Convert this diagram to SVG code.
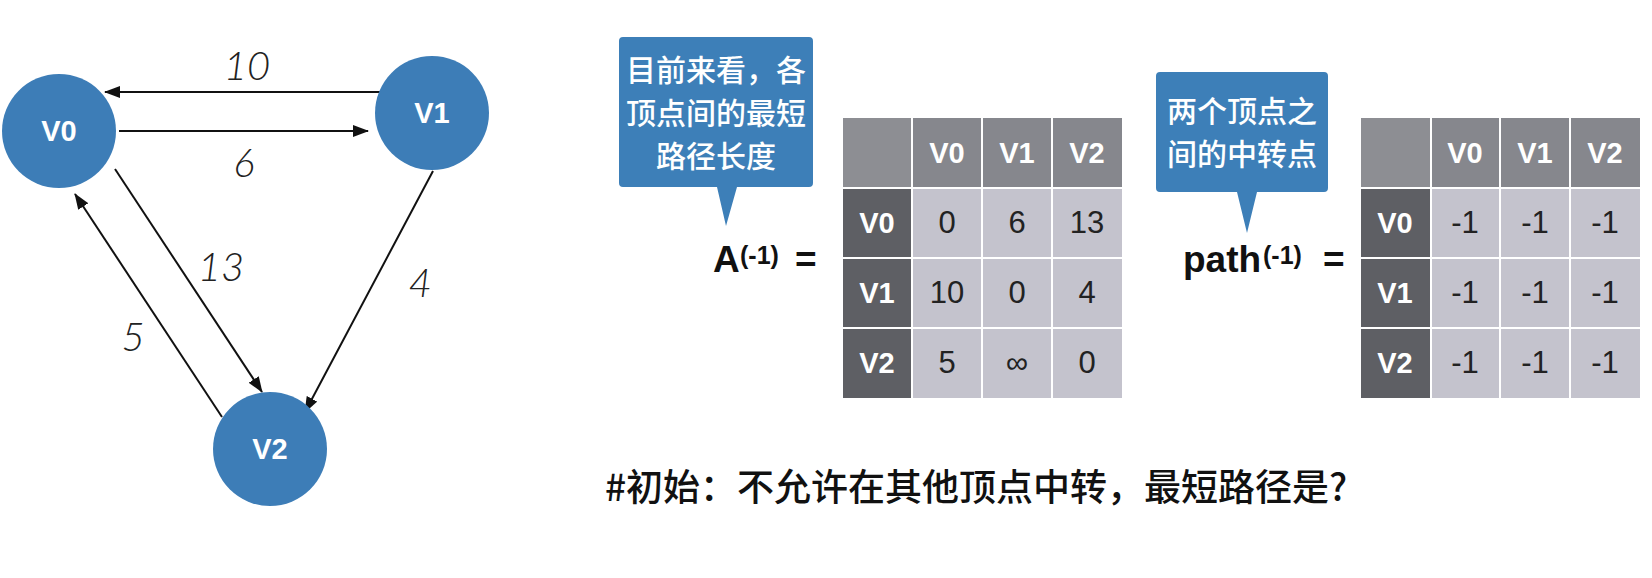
<svg xmlns="http://www.w3.org/2000/svg" width="1652" height="578" viewBox="0 0 1652 578">
<defs>
<style>
.node{fill:#3d7db7;}
.nlabel{font-family:"Liberation Sans",Arial,sans-serif;font-weight:bold;font-size:29px;fill:#ffffff;text-anchor:middle;}
.edge{stroke:#111;stroke-width:2;fill:none;marker-end:url(#arr);}
.elabel{font-family:Lato,"Liberation Sans",sans-serif;font-style:italic;font-weight:300;font-size:40px;fill:#222;text-anchor:middle;}
.callout{fill:#3d7fb8;}
.ctext{font-family:"Noto Sans CJK SC",sans-serif;font-weight:500;font-size:30px;fill:#ffffff;text-anchor:middle;}
.corner{fill:#8d8e93;}
.hdr{fill:#86878d;}
.rhdr{fill:#5e5f64;}
.cell{fill:#c4c3cd;}
.htext{font-family:"Liberation Sans",Arial,sans-serif;font-weight:bold;font-size:29px;fill:#ffffff;text-anchor:middle;}
.dtext{font-family:"Liberation Sans",Arial,sans-serif;font-size:31px;fill:#222;text-anchor:middle;}
.eq{font-family:"Liberation Sans",Arial,sans-serif;font-weight:bold;font-size:37px;fill:#111;}
.sup{font-family:"Liberation Sans",Arial,sans-serif;font-weight:bold;font-size:25px;fill:#111;}
.note{font-family:"Noto Sans CJK SC",sans-serif;font-weight:500;font-size:37px;fill:#111;}
</style>
<marker id="arr" markerUnits="userSpaceOnUse" markerWidth="16" markerHeight="12" refX="15" refY="6" orient="auto">
<path d="M0,0 L16,6 L0,12 Z" fill="#111"/>
</marker>
</defs>
<rect width="1652" height="578" fill="#ffffff"/>

<g id="connectors">
<line class="edge" x1="383" y1="92" x2="105" y2="92"/>
<line class="edge" x1="119" y1="131" x2="368" y2="131"/>
<line class="edge" x1="115" y1="169" x2="262" y2="392"/>
<line class="edge" x1="222" y1="417" x2="75" y2="194"/>
<line class="edge" x1="433" y1="171" x2="305" y2="412"/>
<text class="elabel" x="247" y="80">10</text>
<text class="elabel" x="244" y="177">6</text>
<text class="elabel" x="221" y="281">13</text>
<text class="elabel" x="133" y="351">5</text>
<text class="elabel" x="420" y="297">4</text>
</g>

<g id="node-v0">
<circle class="node" cx="59" cy="131" r="57"/>
<text class="nlabel" x="59" y="141">V0</text>
</g>
<g id="node-v1">
<circle class="node" cx="432" cy="113" r="57"/>
<text class="nlabel" x="432" y="123">V1</text>
</g>
<g id="node-v2">
<circle class="node" cx="270" cy="449" r="57"/>
<text class="nlabel" x="270" y="459">V2</text>
</g>

<g id="callout-a">
<path class="callout" d="M623,37 H809 Q813,37 813,41 V183 Q813,187 809,187 H737 L726,226 L717,187 H623 Q619,187 619,183 V41 Q619,37 623,37 Z"/>
<text class="ctext" x="716" y="81">目前来看，各</text>
<text class="ctext" x="716" y="124">顶点间的最短</text>
<text class="ctext" x="716" y="167">路径长度</text>
</g>

<g id="callout-path">
<path class="callout" d="M1160,72 H1324 Q1328,72 1328,76 V188 Q1328,192 1324,192 H1257 L1247,233 L1237,192 H1160 Q1156,192 1156,188 V76 Q1156,72 1160,72 Z"/>
<text class="ctext" x="1242" y="122">两个顶点之</text>
<text class="ctext" x="1242" y="165">间的中转点</text>
</g>

<g id="label-a">
<text class="eq" x="713" y="272">A</text>
<text class="sup" x="740" y="264">(-1)</text>
<text class="eq" x="795" y="272">=</text>
</g>

<g id="table-a">
<rect class="corner" x="843" y="118" width="68" height="69"/>
<rect class="hdr" x="913" y="118" width="68" height="69"/>
<rect class="hdr" x="983" y="118" width="68" height="69"/>
<rect class="hdr" x="1053" y="118" width="69" height="69"/>
<rect class="rhdr" x="843" y="189" width="68" height="68"/>
<rect class="rhdr" x="843" y="259" width="68" height="68"/>
<rect class="rhdr" x="843" y="329" width="68" height="69"/>
<rect class="cell" x="913" y="189" width="68" height="68"/>
<rect class="cell" x="983" y="189" width="68" height="68"/>
<rect class="cell" x="1053" y="189" width="69" height="68"/>
<rect class="cell" x="913" y="259" width="68" height="68"/>
<rect class="cell" x="983" y="259" width="68" height="68"/>
<rect class="cell" x="1053" y="259" width="69" height="68"/>
<rect class="cell" x="913" y="329" width="68" height="69"/>
<rect class="cell" x="983" y="329" width="68" height="69"/>
<rect class="cell" x="1053" y="329" width="69" height="69"/>
<text class="htext" x="947" y="163">V0</text>
<text class="htext" x="1017" y="163">V1</text>
<text class="htext" x="1087" y="163">V2</text>
<text class="htext" x="877" y="233">V0</text>
<text class="htext" x="877" y="303">V1</text>
<text class="htext" x="877" y="373">V2</text>
<text class="dtext" x="947" y="233">0</text>
<text class="dtext" x="1017" y="233">6</text>
<text class="dtext" x="1087" y="233">13</text>
<text class="dtext" x="947" y="303">10</text>
<text class="dtext" x="1017" y="303">0</text>
<text class="dtext" x="1087" y="303">4</text>
<text class="dtext" x="947" y="373">5</text>
<text class="dtext" x="1017" y="373">∞</text>
<text class="dtext" x="1087" y="373">0</text>
</g>

<g id="label-path">
<text class="eq" x="1183" y="272">path</text>
<text class="sup" x="1263" y="264">(-1)</text>
<text class="eq" x="1323" y="272">=</text>
</g>

<g id="table-path">
<rect class="corner" x="1361" y="118" width="69" height="69"/>
<rect class="hdr" x="1432" y="118" width="67" height="69"/>
<rect class="hdr" x="1501" y="118" width="68" height="69"/>
<rect class="hdr" x="1571" y="118" width="69" height="69"/>
<rect class="rhdr" x="1361" y="189" width="69" height="68"/>
<rect class="rhdr" x="1361" y="259" width="69" height="68"/>
<rect class="rhdr" x="1361" y="329" width="69" height="69"/>
<rect class="cell" x="1432" y="189" width="67" height="68"/>
<rect class="cell" x="1501" y="189" width="68" height="68"/>
<rect class="cell" x="1571" y="189" width="69" height="68"/>
<rect class="cell" x="1432" y="259" width="67" height="68"/>
<rect class="cell" x="1501" y="259" width="68" height="68"/>
<rect class="cell" x="1571" y="259" width="69" height="68"/>
<rect class="cell" x="1432" y="329" width="67" height="69"/>
<rect class="cell" x="1501" y="329" width="68" height="69"/>
<rect class="cell" x="1571" y="329" width="69" height="69"/>
<text class="htext" x="1465" y="163">V0</text>
<text class="htext" x="1535" y="163">V1</text>
<text class="htext" x="1605" y="163">V2</text>
<text class="htext" x="1395" y="233">V0</text>
<text class="htext" x="1395" y="303">V1</text>
<text class="htext" x="1395" y="373">V2</text>
<text class="dtext" x="1465" y="233">-1</text>
<text class="dtext" x="1535" y="233">-1</text>
<text class="dtext" x="1605" y="233">-1</text>
<text class="dtext" x="1465" y="303">-1</text>
<text class="dtext" x="1535" y="303">-1</text>
<text class="dtext" x="1605" y="303">-1</text>
<text class="dtext" x="1465" y="373">-1</text>
<text class="dtext" x="1535" y="373">-1</text>
<text class="dtext" x="1605" y="373">-1</text>
</g>

<g id="note">
<text class="note" x="605" y="501">#初始：不允许在其他顶点中转，最短路径是?</text>
</g>
</svg>
